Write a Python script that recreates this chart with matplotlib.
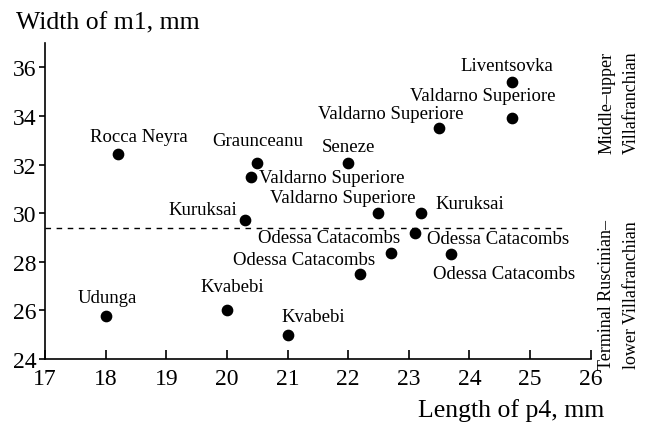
import matplotlib.pyplot as plt

plt.rcParams["font.family"] = ["Liberation Serif", "DejaVu Serif"]

# Data
length_p4 = [18.2, 20.5, 20.4, 20.3, 18.0, 20.0, 21.0, 24.7, 24.7, 23.5,
             22.0, 22.5, 23.2, 23.1, 22.7, 23.7, 22.2]
width_m1 = [32.45, 32.05, 31.5, 29.7, 25.75, 26.0, 25.0, 35.4, 33.9, 33.5,
            32.05, 30.0, 30.0, 29.2, 28.35, 28.3, 27.5]
sites = ["Rocca Neyra", "Graunceanu", "Valdarno Superiore", "Kuruksai", "Udunga",
         "Kvabebi", "Kvabebi", "Liventsovka", "Valdarno Superiore",
         "Valdarno Superiore", "Seneze", "Valdarno Superiore", "Kuruksai",
         "Odessa Catacombs", "Odessa Catacombs", "Odessa Catacombs",
         "Odessa Catacombs"]
boundary = 29.4

# label placement: (dx, dy in pixels, horizontal alignment)
label_pos = [(21, 13, "center"), (1, 18, "center"), (8, -5, "left"),
             (-8, 6, "right"), (2, 14, "center"), (5, 19, "center"),
             (-6, 14, "left"), (-5, 12, "center"), (-29, 18, "center"),
             (-48, 10, "center"), (0, 12, "center"), (-36, 11, "center"),
             (15, 5, "left"), (12, -10, "left"), (10, 11, "right"),
             (-18, -24, "left"), (15, 10, "right")]

fig = plt.figure(figsize=(6.45, 4.27), dpi=100)
ax = fig.add_axes([0.0698, 0.157, 0.846, 0.74])

ax.scatter(length_p4, width_m1, s=55, color="black", zorder=3)
ax.plot([17, 25.6], [boundary, boundary], color="black", lw=1, ls=(0, (4, 4)))

for x, y, name, (dx, dy, ha) in zip(length_p4, width_m1, sites, label_pos):
    ax.annotate(name, (x, y), xytext=(dx, dy), textcoords="offset pixels",
                ha=ha, va="baseline", fontsize=13.5)

ax.set_xlim(17, 26)
ax.set_ylim(24, 37)
ax.set_xticks(range(17, 27))
ax.set_yticks(range(24, 37, 2))
ax.spines["top"].set_visible(False)
ax.spines["right"].set_visible(False)
ax.spines["left"].set_linewidth(1.2)
ax.spines["bottom"].set_linewidth(1.2)
ax.tick_params(axis="x", direction="in", length=6.5, width=1.2, labelsize=17, pad=6.5)
ax.tick_params(axis="y", direction="out", length=4, width=1.2, labelsize=17, pad=2)

fig.text(16 / 645, 1 - 29 / 427, "Width of m1, mm", fontsize=18.5, ha="left", va="baseline")
fig.text(604 / 645, 1 - 417 / 427, "Length of p4, mm", fontsize=18.5, ha="right", va="baseline")

fig.text(619 / 645, 1 - 103 / 427, "Middle\u2013upper\nVillafranchian", rotation=90,
         fontsize=13, ha="center", va="center", multialignment="center", linespacing=1.55)
fig.text(619 / 645, 1 - 295 / 427, "Terminal Ruscinian\u2013\nlower Villafranchian", rotation=90,
         fontsize=13, ha="center", va="center", multialignment="center", linespacing=1.55)

fig.savefig("out.png", dpi=100)
